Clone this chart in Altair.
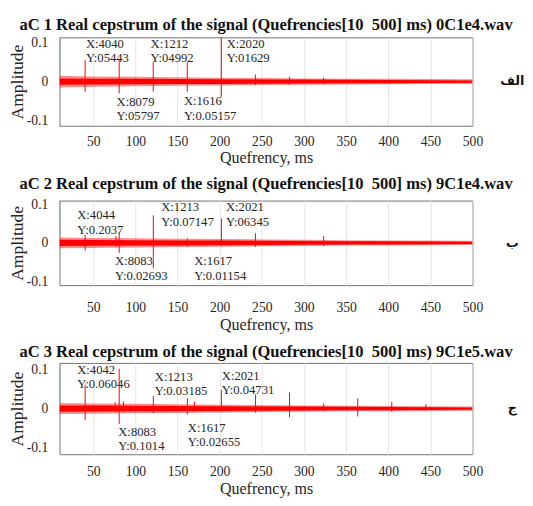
import altair as alt
import pandas as pd

FONT = "Liberation Serif"
RED = "#ff0000"
GREEN = "#5fc35f"
TXT = "#262626"
W = 425

titles = [
    "aC 1 Real cepstrum of the signal (Quefrencies[10\u00a0 500] ms) 0C1e4.wav",
    "aC 2 Real cepstrum of the signal (Quefrencies[10\u00a0 500] ms) 9C1e4.wav",
    "aC 3 Real cepstrum of the signal (Quefrencies[10\u00a0 500] ms) 9C1e5.wav",
]
side_labels = ["الف", "ب", "ج"]
heights = [91, 87, 94]
y_half = [0.113, 0.11, 0.116]
title_offsets = [2, 5, 2]
x_label_pad = [9, 16, 11]
x_title_pad = [2, 3, 2]

x_ticks = [50, 100, 150, 200, 250, 300, 350, 400, 450, 500]
y_ticks = [-0.1, 0, 0.1]

# noise envelope of the cepstrum (half-width of the red band)
noise_q = [10, 50, 100, 150, 200, 250, 300, 350, 400, 450, 500]
noise_outer = [
    [0.015, 0.013, 0.012, 0.011, 0.010, 0.009, 0.008, 0.0075, 0.007, 0.0065, 0.006],
    [0.014, 0.013, 0.012, 0.011, 0.010, 0.009, 0.008, 0.007, 0.0065, 0.006, 0.0055],
    [0.014, 0.013, 0.012, 0.011, 0.010, 0.009, 0.008, 0.007, 0.0065, 0.006, 0.0055],
]
noise_inner = [
    [0.008, 0.0075, 0.007, 0.0065, 0.006, 0.0055, 0.005, 0.0045, 0.004, 0.0035, 0.003],
    [0.008, 0.0075, 0.007, 0.0065, 0.006, 0.0055, 0.005, 0.0045, 0.004, 0.0035, 0.003],
    [0.008, 0.0075, 0.007, 0.0065, 0.006, 0.0055, 0.005, 0.0045, 0.004, 0.0035, 0.003],
]

# rahmonic spikes
spike_q = [
    [40.40, 80.79, 121.2, 161.6, 202.0, 242.4, 282.8, 323.2],
    [40.44, 77.0, 80.83, 121.3, 161.7, 202.1, 242.5, 323.4],
    [40.42, 76.0, 80.83, 86.0, 121.3, 161.7, 170.0, 202.1, 242.5, 282.9, 323.4, 363.8, 404.2, 444.6],
]
spike_top = [
    [0.05443, 0.05797, 0.04992, 0.05157, 0.1629, 0.018, 0.012, 0.010],
    [0.02037, 0.018, 0.02693, 0.07147, 0.01154, 0.06345, 0.025, 0.018],
    [0.06046, 0.016, 0.1014, 0.018, 0.03185, 0.02655, 0.018, 0.04731, 0.036, 0.041, 0.013, 0.026, 0.017, 0.011],
]
spike_bottom = [
    [-0.026, -0.030, -0.026, -0.026, -0.039, -0.009, -0.008, -0.007],
    [-0.020, -0.010, -0.026, -0.066, -0.010, -0.008, -0.010, -0.008],
    [-0.030, -0.008, -0.039, -0.010, -0.012, -0.015, -0.008, -0.008, -0.010, -0.022, -0.007, -0.020, -0.008, -0.006],
]

# data tips: left edge (ms), first-line centre, second-line centre (amplitude)
ann_q = [
    [41.3, 118.0, 208.3, 77.7, 157.6],
    [31.0, 130.7, 207.5, 75.9, 169.8],
    [31.0, 123.1, 202.5, 79.7, 162.2],
]
ann_y1 = [
    [0.095, 0.095, 0.095, -0.052, -0.051],
    [0.071, 0.092, 0.092, -0.048, -0.048],
    [0.0975, 0.079, 0.083, -0.060, -0.049],
]
ann_y2 = [
    [0.060, 0.060, 0.060, -0.089, -0.088],
    [0.033, 0.054, 0.054, -0.087, -0.087],
    [0.062, 0.044, 0.048, -0.095, -0.084],
]
ann_l1 = [
    ["X:4040", "X:1212", "X:2020", "X:8079", "X:1616"],
    ["X:4044", "X:1213", "X:2021", "X:8083", "X:1617"],
    ["X:4042", "X:1213", "X:2021", "X:8083", "X:1617"],
]
ann_l2 = [
    ["Y:05443", "Y:04992", "Y:01629", "Y:05797", "Y:0.05157"],
    ["Y:0.2037", "Y:0.07147", "Y:06345", "Y:0.02693", "Y:0.01154"],
    ["Y:0.06046", "Y:0.03185", "Y:0.04731", "Y:0.1014", "Y:0.02655"],
]


def panel(i):
    xs = alt.Scale(domain=[10, 500], nice=False, zero=False)
    ys = alt.Scale(domain=[-y_half[i], y_half[i]], nice=False)
    x_axis = alt.Axis(values=x_ticks, grid=True, ticks=False, labelFlush=False,
                      labelPadding=x_label_pad[i], titlePadding=x_title_pad[i],
                      title="Quefrency, ms")
    y_axis = alt.Axis(values=y_ticks, grid=False, ticks=False, labelPadding=12,
                      titlePadding=0, title="Amplitude",
                      labelExpr="toString(datum.value)")

    def X(f):
        return alt.X(f, scale=xs, axis=x_axis)

    def Y(f):
        return alt.Y(f, scale=ys, axis=y_axis)

    noise = pd.DataFrame({
        "q": noise_q,
        "lo": [-v for v in noise_outer[i]],
        "hi": noise_outer[i],
        "lo2": [-v for v in noise_inner[i]],
        "hi2": noise_inner[i],
    })
    spikes = pd.DataFrame({"q": spike_q[i], "lo": spike_bottom[i], "hi": spike_top[i]})
    ann = pd.DataFrame({"q": ann_q[i], "y1": ann_y1[i], "y2": ann_y2[i],
                        "l1": ann_l1[i], "l2": ann_l2[i]})
    edge = pd.DataFrame({"q": [10], "lo": [0.012], "hi": [0.2]})
    side = pd.DataFrame({"lab": [side_labels[i]], "v": [0]})

    outer = alt.Chart(noise).mark_area(color=RED, opacity=0.45, clip=True).encode(
        x=X("q:Q"), y=Y("lo:Q"), y2="hi:Q")
    inner = alt.Chart(noise).mark_area(color=RED, clip=True).encode(
        x=X("q:Q"), y=Y("lo2:Q"), y2="hi2:Q")
    rules = alt.Chart(spikes).mark_rule(color=RED, strokeWidth=1, clip=True).encode(
        x=X("q:Q"), y=Y("lo:Q"), y2="hi:Q")
    green = alt.Chart(edge).mark_rule(color=GREEN, strokeWidth=1.2, clip=True).encode(
        x=X("q:Q"), y=Y("lo:Q"), y2="hi:Q")
    t1 = alt.Chart(ann).mark_text(align="left", baseline="middle", font=FONT,
                                  fontSize=13, color=TXT).encode(
        x=X("q:Q"), y=Y("y1:Q"), text="l1:N")
    t2 = alt.Chart(ann).mark_text(align="left", baseline="middle", font=FONT,
                                  fontSize=13, color=TXT).encode(
        x=X("q:Q"), y=Y("y2:Q"), text="l2:N")
    lab = alt.Chart(side).mark_text(align="center", baseline="middle",
                                    font="DejaVu Sans", fontSize=13, fontWeight="bold",
                                    color="#111").encode(
        x=alt.value(W + 41), y=Y("v:Q"), text="lab:N")
    return alt.layer(outer, inner, rules, green, t1, t2, lab).properties(
        width=W,
        height=heights[i],
        title=alt.TitleParams(titles[i], offset=title_offsets[i], frame="group",
                              anchor="middle"),
    )


chart = alt.vconcat(panel(0), panel(1), panel(2), spacing=8).properties(
    padding=0
).configure_view(
    stroke="#6e6e6e", strokeWidth=1
).configure_axis(
    labelFont=FONT, titleFont=FONT, labelColor=TXT, titleColor=TXT,
    labelFontSize=14, titleFontSize=16.5, titleFontWeight="normal",
    domain=False, gridColor="#e3e3e3", gridWidth=1,
).configure_axisY(
    labelFontSize=14, titleFontSize=18,
).configure_title(
    font=FONT, fontSize=17, fontWeight="bold", color="#111",
)

chart.save("out.html", embed_options={"renderer": "svg", "actions": False})
